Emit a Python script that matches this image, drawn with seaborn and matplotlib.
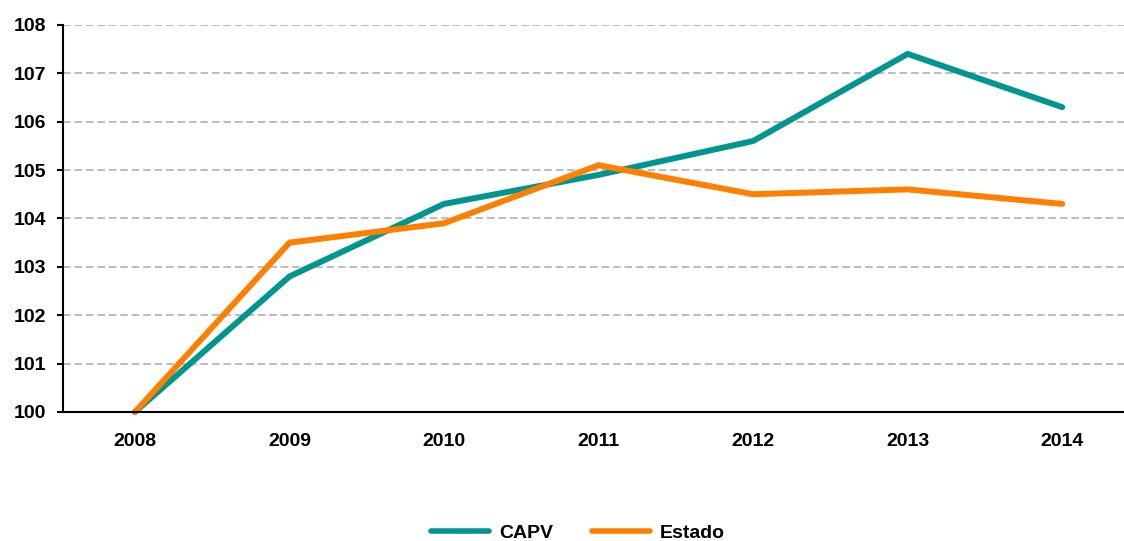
import matplotlib
matplotlib.use("Agg")
import matplotlib.pyplot as plt
import seaborn as sns
import pandas as pd

years = [2008, 2009, 2010, 2011, 2012, 2013, 2014]
capv = [100.0, 102.8, 104.3, 104.9, 105.6, 107.4, 106.3]
estado = [100.0, 103.5, 103.9, 105.1, 104.5, 104.6, 104.3]
series_names = ["CAPV", "Estado"]
colors = ["#00968F", "#FF7F00"]

df = pd.DataFrame({
    "year": years * 2,
    "value": capv + estado,
    "serie": [series_names[0]] * len(years) + [series_names[1]] * len(years),
})

sns.set_style("white")
plt.rcParams["font.family"] = ["Liberation Sans", "DejaVu Sans"]
plt.rcParams["font.weight"] = "bold"
plt.rcParams["text.color"] = "black"
plt.rcParams["xtick.color"] = "black"
plt.rcParams["ytick.color"] = "black"

FS = 14

fig = plt.figure(figsize=(11.24, 5.41), dpi=100)
ax = fig.add_axes([0.056, 0.2385, 0.944, 0.7155])

sns.lineplot(data=df, x="year", y="value", hue="serie", palette=colors,
             linewidth=4.3, ax=ax, sort=False, legend=True, clip_on=False)
for l in ax.lines:
    l.set_solid_capstyle("round")
    l.set_solid_joinstyle("miter")

ax.set_xlim(2007.534, 2014.40)
ax.set_ylim(100, 108)
ax.set_yticks(range(100, 109))
ax.set_xticks(years)
ax.set_xticklabels([str(y) for y in years], fontsize=FS, fontweight="bold")
ax.set_yticklabels([str(v) for v in range(100, 109)], fontsize=FS, fontweight="bold")
ax.set_xlabel("")
ax.set_ylabel("")

for v in range(101, 109):
    ax.axhline(v, color="#AAAAAA", linestyle=(0, (5, 2.5)), linewidth=1.1, zorder=0)

for s in ["top", "right"]:
    ax.spines[s].set_visible(False)
for s in ["left", "bottom"]:
    ax.spines[s].set_color("black")
    ax.spines[s].set_linewidth(1.5)

ax.tick_params(axis="y", direction="out", length=4, width=1.5, color="black", pad=8, left=True)
ax.tick_params(axis="x", which="major", length=0, pad=15)
ax.set_xticks([2007.534], minor=True)
ax.tick_params(axis="x", which="minor", direction="out", length=5, width=1.5, color="black")

handles, labels = ax.get_legend_handles_labels()
leg = ax.legend(handles, labels, loc="center", bbox_to_anchor=(0.514, 0.014),
                bbox_transform=fig.transFigure, ncol=2, frameon=False,
                prop={"weight": "bold", "size": FS}, handlelength=3.0,
                columnspacing=2.0, handletextpad=0.5)
for h in leg.get_lines():
    h.set_linewidth(4)
    h.set_solid_capstyle("round")

fig.savefig("out.png", dpi=100)
